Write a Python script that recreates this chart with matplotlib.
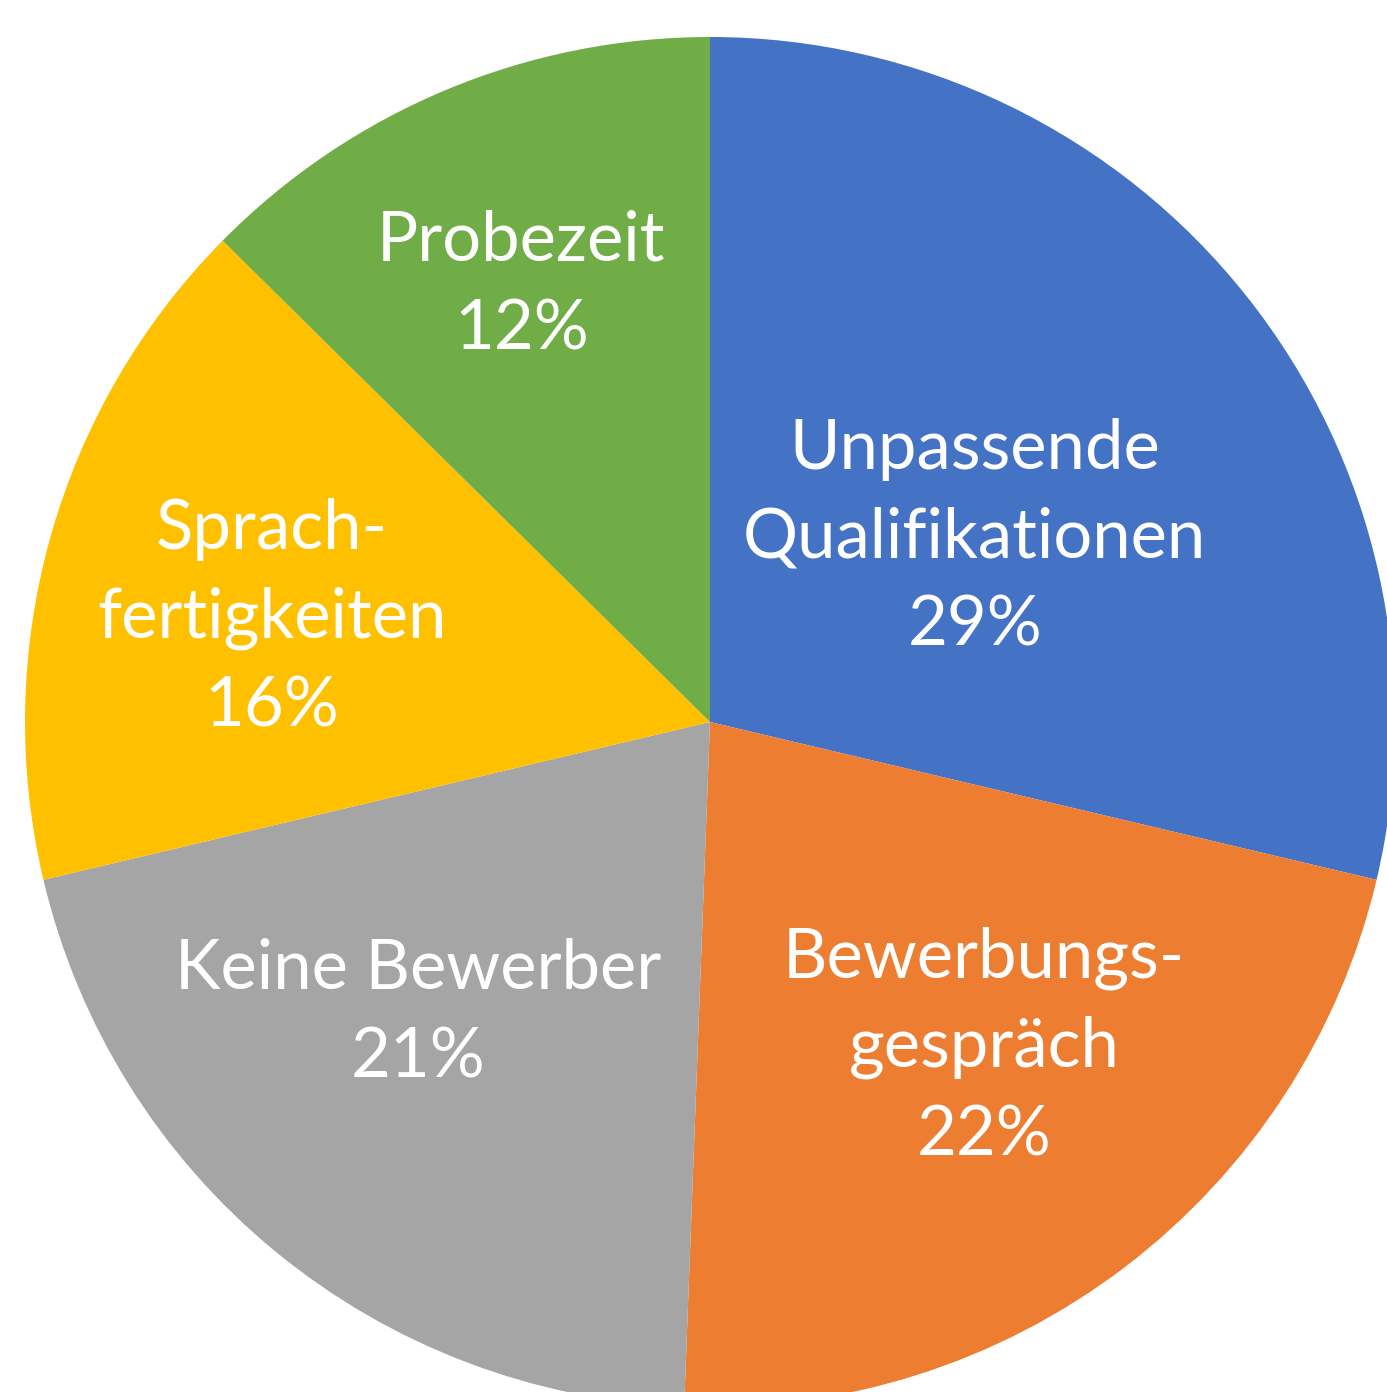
import numpy as np
import matplotlib.pyplot as plt

# Daten aus dem Diagramm
categories = ['Unpassende\nQualifikationen', 'Bewerbungs-\ngespräch', 'Keine Bewerber',
              'Sprach-\nfertigkeiten', 'Probezeit']
shares = [28.7, 21.9, 20.7, 16.1, 12.6]
pct_labels = ['29%', '22%', '21%', '16%', '12%']

colors = ['#4472C4', '#ED7D31', '#A5A5A5', '#FFC000', '#70AD47']
label_dist = [0.471, 0.621, 0.602, 0.657, 0.694]
label_turn = [-3.5, 2.9, -5.6, 2.3, 0.7]   # Grad, Feinjustierung der Labels

fig = plt.figure(figsize=(13.87, 13.92), dpi=100)
ax = fig.add_axes([0, 0, 1, 1])

cx, cy, r = 710, 670, 685
wedges, _ = ax.pie(shares, colors=colors, startangle=90, counterclock=False,
                   center=(cx, cy), radius=r, frame=False,
                   wedgeprops=dict(linewidth=0))
ax.set_xlim(0, 1387)
ax.set_ylim(0, 1392)
ax.axis('off')

for w, cat, pct, d, t in zip(wedges, categories, pct_labels, label_dist, label_turn):
    theta = np.deg2rad((w.theta1 + w.theta2) / 2 + t)
    x = cx + d * r * np.cos(theta)
    y = cy + d * r * np.sin(theta)
    ax.text(x, y, f'{cat}\n{pct}', ha='center', va='center', color='white',
            fontsize=49.5, family='Lato', linespacing=1.5)

fig.savefig('out.png', dpi=100)
